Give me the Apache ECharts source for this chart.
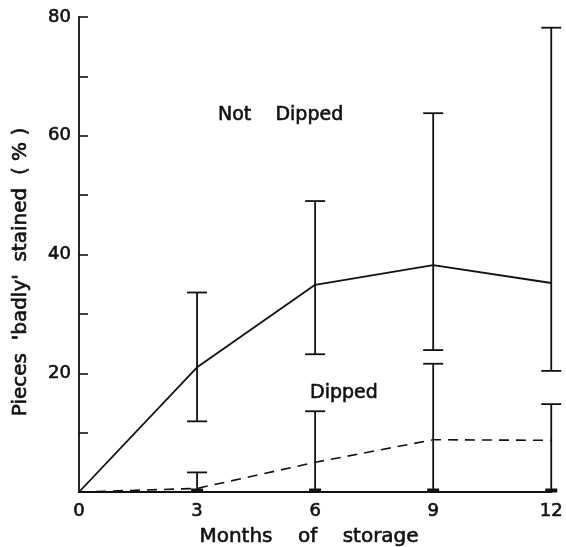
<!DOCTYPE html>
<html>
<head>
<meta charset="utf-8" />
<script src="https://cdn.jsdelivr.net/npm/echarts@6/dist/echarts.min.js"></script>
<style>
  html, body { margin: 0; padding: 0; background: #fff; }
  #chart { width: 566px; height: 547px; }
</style>
</head>
<body>
<div id="chart"></div>
<script>
// months of storage
var months = [0, 3, 6, 9, 12];
// percent of pieces badly stained
var notDipped = [0, 21.0, 34.9, 38.2, 35.2];
var notDippedLow = [0, 11.9, 23.2, 23.9, 20.4];
var notDippedHigh = [0, 33.6, 49.0, 63.8, 78.2];
var dipped = [0, 0.6, 5.0, 8.8, 8.7];
var dippedLow = [0, 0, 0, 0, 0];
var dippedHigh = [0, 3.3, 13.6, 21.6, 14.8];
var yTickLabels = [20, 40, 60, 80];

var font = 'DejaVu Sans';
var ink = '#111';

function pairs(ys) {
    return months.map(function(m, i) { return [m, ys[i]]; });
}

function barData(low, high) {
    var out = [];
    for (var i = 1; i < months.length; i++) {
        out.push([months[i], low[i], high[i]]);
    }
    return out;
}

function errorBar(params, api) {
    var x = api.value(0);
    var lo = api.coord([x, api.value(1)]);
    var hi = api.coord([x, api.value(2)]);
    var half = 10;
    var style = { stroke: ink, lineWidth: 1.8 };
    var kids = [
        { type: 'line', shape: { x1: lo[0], y1: lo[1], x2: hi[0], y2: hi[1] }, style: style },
        { type: 'line', shape: { x1: hi[0] - half, y1: hi[1], x2: hi[0] + half, y2: hi[1] }, style: style }
    ];
    if (api.value(1) > 0) {
        kids.push({ type: 'line', shape: { x1: lo[0] - half, y1: lo[1], x2: lo[0] + half, y2: lo[1] }, style: style });
    } else {
        kids.push({ type: 'line', shape: { x1: lo[0] - 6, y1: lo[1] - 1.5, x2: lo[0] + 6, y2: lo[1] - 1.5 }, style: { stroke: ink, lineWidth: 4 } });
    }
    return { type: 'group', children: kids };
}

// medium-weight look: regular glyphs with a thin outline
function txt(extra) {
    var s = { fill: ink, stroke: ink, lineWidth: 0.6 };
    for (var k in extra) s[k] = extra[k];
    return s;
}

var chart = echarts.init(document.getElementById('chart'));
chart.setOption({
    animation: false,
    backgroundColor: '#fff',
    grid: { left: 79, right: 9, top: 17, bottom: 55 },
    xAxis: {
        type: 'value',
        min: 0,
        max: 12,
        interval: 3,
        axisLine: { lineStyle: { color: ink, width: 2.2 } },
        axisTick: { show: false },
        splitLine: { show: false },
        axisLabel: { fontFamily: font, fontSize: 18, color: ink, textBorderColor: ink, textBorderWidth: 0.6, margin: 10 }
    },
    yAxis: {
        type: 'value',
        min: 0,
        max: 80,
        interval: 10,
        axisLine: { lineStyle: { color: ink, width: 1.8 } },
        axisTick: { show: true, inside: true, length: 9, lineStyle: { color: ink, width: 1.6 } },
        splitLine: { show: false },
        axisLabel: {
            fontFamily: font, fontSize: 18, color: ink, textBorderColor: ink, textBorderWidth: 0.6, margin: 8,
            formatter: function(v) { return yTickLabels.indexOf(v) >= 0 ? String(v) : ''; }
        }
    },
    graphic: [
        { type: 'text', x: 218, y: 106, style: txt({ text: 'Not    Dipped', font: '19px ' + font }) },
        { type: 'text', x: 310, y: 384, style: txt({ text: 'Dipped', font: '19px ' + font }) },
        { type: 'text', x: 309, y: 537, style: txt({ text: 'Months    of    storage', font: '20px ' + font, align: 'center', verticalAlign: 'middle' }) },
        { type: 'text', x: 21, y: 272, rotation: Math.PI / 2, style: txt({ text: "Pieces  'badly'  stained  ( % )", font: '20px ' + font, align: 'center', verticalAlign: 'middle' }) }
    ],
    series: [
        {
            name: 'Not Dipped',
            type: 'line',
            data: pairs(notDipped),
            symbol: 'none',
            lineStyle: { color: ink, width: 1.8 },
            z: 3
        },
        {
            name: 'Dipped',
            type: 'line',
            data: pairs(dipped),
            symbol: 'none',
            lineStyle: { color: ink, width: 1.6, type: [10, 7] },
            z: 3
        },
        {
            type: 'custom',
            renderItem: errorBar,
            data: barData(notDippedLow, notDippedHigh),
            clip: false,
            z: 4
        },
        {
            type: 'custom',
            renderItem: errorBar,
            data: barData(dippedLow, dippedHigh),
            clip: false,
            z: 4
        }
    ]
});
</script>
</body>
</html>
